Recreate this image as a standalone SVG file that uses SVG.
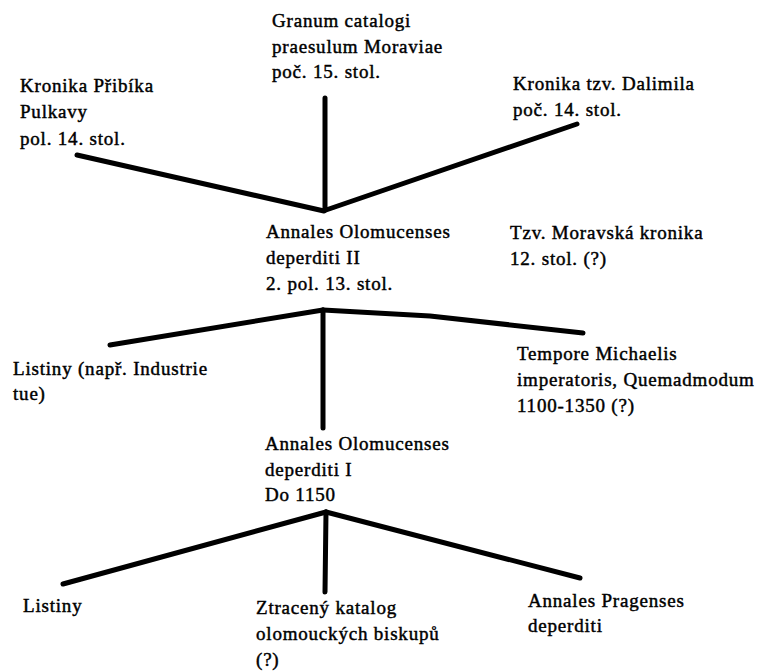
<svg xmlns="http://www.w3.org/2000/svg" width="760" height="671" viewBox="0 0 760 671">
<style>
text{font-family:"Liberation Serif","Times New Roman",serif;font-size:19px;letter-spacing:0.8px;fill:#000;stroke:#000;stroke-width:0.45px}
.c{stroke:#000;stroke-width:5;stroke-linecap:round;stroke-linejoin:round;fill:none}
</style>
<rect width="760" height="671" fill="#fff"/>
<g id="connectors">
<line class="c" x1="325" y1="98" x2="325" y2="210"/>
<line class="c" x1="77" y1="155" x2="324" y2="211"/>
<line class="c" x1="577" y1="124" x2="326" y2="210"/>
<line class="c" x1="110" y1="345" x2="323" y2="310"/>
<polyline class="c" points="323,310 430,316 583,333"/>
<line class="c" x1="323" y1="310" x2="323" y2="428"/>
<line class="c" x1="63" y1="584" x2="326" y2="512"/>
<line class="c" x1="326" y1="512" x2="580" y2="578"/>
<line class="c" x1="326" y1="512" x2="325" y2="592"/>
</g>
<g id="granum"><text x="272" y="27">Granum catalogi</text><text x="272" y="53">praesulum Moraviae</text><text x="272" y="78">poč. 15. stol.</text></g>
<g id="pribik"><text x="20" y="92">Kronika Přibíka</text><text x="20" y="118">Pulkavy</text><text x="20" y="145">pol. 14. stol.</text></g>
<g id="dalimil"><text x="513" y="90">Kronika tzv. Dalimila</text><text x="513" y="116">poč. 14. stol.</text></g>
<g id="annales2"><text x="266" y="238">Annales Olomucenses</text><text x="266" y="264">deperditi II</text><text x="266" y="290">2. pol. 13. stol.</text></g>
<g id="moravska"><text x="510" y="239">Tzv. Moravská kronika</text><text x="510" y="265">12. stol. (?)</text></g>
<g id="listiny1"><text x="13" y="375">Listiny (např. Industrie</text><text x="13" y="400">tue)</text></g>
<g id="tempore"><text x="517" y="360">Tempore Michaelis</text><text x="517" y="386">imperatoris, Quemadmodum</text><text x="517" y="412">1100-1350 (?)</text></g>
<g id="annales1"><text x="265" y="450">Annales Olomucenses</text><text x="265" y="476">deperditi I</text><text x="265" y="501">Do 1150</text></g>
<g id="listiny2"><text x="23" y="612">Listiny</text></g>
<g id="katalog"><text x="256" y="614">Ztracený katalog</text><text x="256" y="640">olomouckých biskupů</text><text x="256" y="666">(?)</text></g>
<g id="pragenses"><text x="528" y="607">Annales Pragenses</text><text x="528" y="632">deperditi</text></g>
</svg>
